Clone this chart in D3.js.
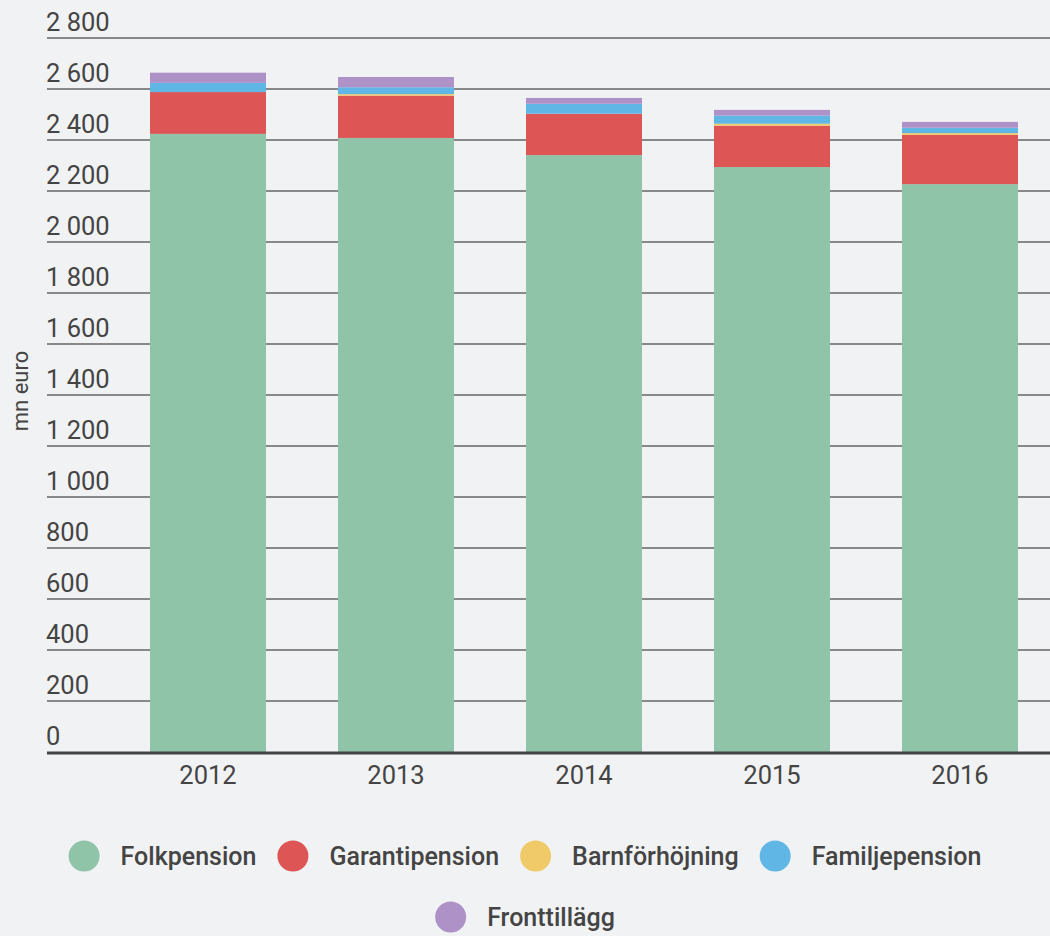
<!DOCTYPE html>
<html>
<head>
<meta charset="utf-8">
<script src="https://cdn.jsdelivr.net/npm/d3@7"></script>
<style>
  body { margin: 0; background: #f1f2f4; }
  svg { display: block; font-family: Roboto, sans-serif; }
</style>
</head>
<body>
<div id="chart"></div>
<script>
const years = ["2012", "2013", "2014", "2015", "2016"];
const seriesNames = ["Folkpension", "Garantipension", "Barnförhöjning", "Familjepension", "Fronttillägg"];
const folkpension    = [2424, 2408, 2341, 2294, 2227];
const garantipension = [164, 166, 162, 162, 193];
const barnforhojning = [0, 6, 0, 8, 7];
const familjepension = [36, 27, 39, 32, 21];
const fronttillagg   = [40, 40, 23, 22, 23];
const yTicks = [0, 200, 400, 600, 800, 1000, 1200, 1400, 1600, 1800, 2000, 2200, 2400, 2600, 2800];
const colours = ["#8fc4a8", "#dd5555", "#f0ca68", "#60b7e5", "#ae91c7"];

const width = 1050;
const height = 936;

const values = [folkpension, garantipension, barnforhojning, familjepension, fronttillagg];
const rows = years.map((y, i) => {
    const row = { year: y };
    seriesNames.forEach((s, j) => row[s] = values[j][i]);
    return row;
});

const svg = d3.select("#chart").append("svg")
    .attr("width", width)
    .attr("height", height)

const x = d3.scaleBand()
    .domain(years)
    .range([114, 1054])
    .paddingInner(72 / 188)
    .paddingOuter(36 / 188)

const y = d3.scaleLinear()
    .domain([0, 2800])
    .range([752, 38])

const fmt = d3.formatLocale({ decimal: ",", thousands: " ", grouping: [3], currency: ["", ""] }).format(",d");

// Gridlines and tick labels
const grid = svg.append("g")
grid.selectAll("line")
    .data(yTicks.filter(d => d > 0))
    .join("line")
    .attr("x1", 47)
    .attr("x2", width)
    .attr("y1", d => y(d))
    .attr("y2", d => y(d))
    .attr("stroke", "#888")
    .attr("stroke-width", 2)

grid.selectAll("text")
    .data(yTicks)
    .join("text")
    .attr("x", 46)
    .attr("y", d => y(d) - 7)
    .attr("fill", "#444")
    .style("font-size", "25.5px")
    .text(d => fmt(d))

// Stacked bars
const stacked = d3.stack().keys(seriesNames)(rows);
svg.append("g")
    .selectAll("g")
    .data(stacked)
    .join("g")
    .attr("fill", (d, i) => colours[i])
    .selectAll("rect")
    .data(d => d)
    .join("rect")
    .attr("x", d => x(d.data.year))
    .attr("width", x.bandwidth())
    .attr("y", d => y(d[1]))
    .attr("height", d => y(d[0]) - y(d[1]))

// Baseline
svg.append("line")
    .attr("x1", 47)
    .attr("x2", width)
    .attr("y1", y(0) + 1)
    .attr("y2", y(0) + 1)
    .attr("stroke", "#444")
    .attr("stroke-width", 3)

// X axis labels
svg.append("g")
    .selectAll("text")
    .data(years)
    .join("text")
    .attr("x", d => x(d) + x.bandwidth() / 2)
    .attr("y", 784)
    .attr("text-anchor", "middle")
    .attr("fill", "#444")
    .style("font-size", "25.5px")
    .text(d => d)

// Y axis title
svg.append("text")
    .attr("transform", "translate(28, 391) rotate(-90)")
    .attr("text-anchor", "middle")
    .attr("fill", "#444")
    .style("font-size", "22px")
    .text("mn euro")

// Legend, centred and wrapped
const legend = svg.append("g")
const items = legend.selectAll("g")
    .data(seriesNames)
    .join("g")
items.append("circle")
    .attr("r", 15.5)
    .attr("cx", 15.5)
    .attr("fill", (d, i) => colours[i])
items.append("text")
    .attr("x", 52)
    .attr("y", 9)
    .attr("fill", "#444")
    .style("font-size", "25px")
    .style("font-weight", 500)
    .text(d => d)

const itemWidths = [];
items.each(function () {
    itemWidths.push(52 + d3.select(this).select("text").node().getComputedTextLength());
});
const gap = 21;
const maxRow = 1000;
let lines = [[]], lineW = [0];
itemWidths.forEach((w, i) => {
    const cur = lines.length - 1;
    const add = (lines[cur].length ? gap : 0) + w;
    if (lineW[cur] + add > maxRow && lines[cur].length) {
        lines.push([i]);
        lineW.push(w);
    } else {
        lines[cur].push(i);
        lineW[cur] += add;
    }
});
lines.forEach((line, li) => {
    let cx = (width - lineW[li]) / 2;
    line.forEach(i => {
        d3.select(items.nodes()[i]).attr("transform", `translate(${cx}, ${856 + li * 61})`);
        cx += itemWidths[i] + gap;
    });
});
</script>
</body>
</html>
